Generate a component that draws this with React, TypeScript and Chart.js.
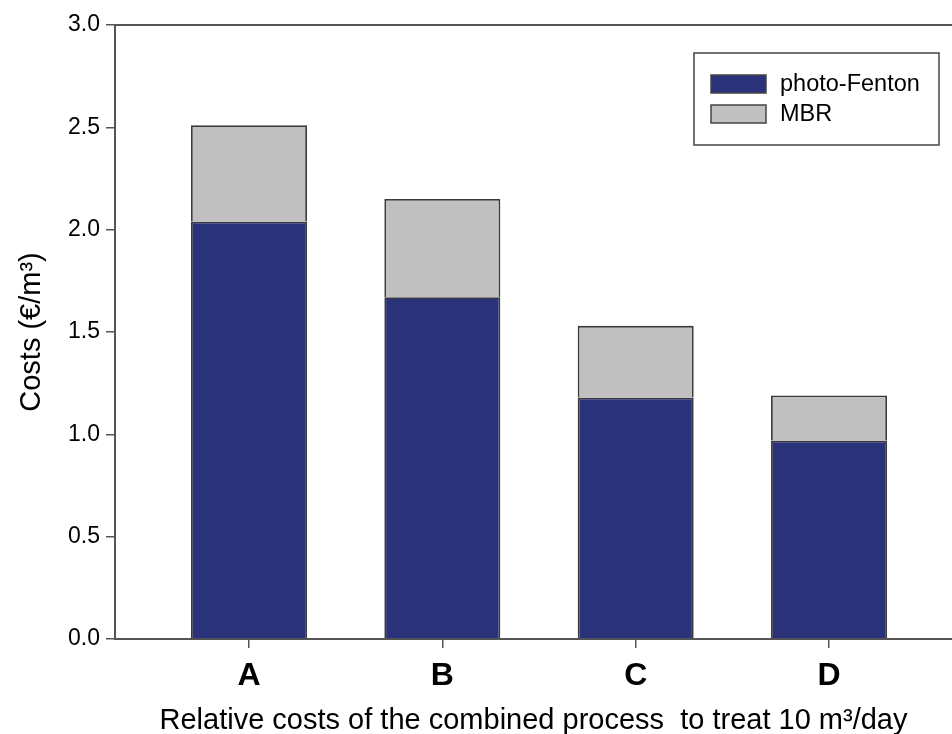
import { useEffect, useRef } from 'react';
import { Chart, registerables } from 'chart.js';

Chart.register(...registerables);

const categories = ['A', 'B', 'C', 'D'];
const photoFenton = [2.04, 1.67, 1.18, 0.97];
const mbr = [0.47, 0.48, 0.35, 0.22];
const seriesNames = ['photo-Fenton', 'MBR'];
const seriesColors = ['#2a327a', '#c0c0c0'];
const yMin = 0;
const yMax = 3.0;
const yStep = 0.5;
const xTitle = 'Relative costs of the combined process  to treat 10 m³/day';
const yTitle = 'Costs (€/m³)';

const FONT = "'Liberation Sans', Arial, Helvetica, sans-serif";
const AXIS = '#555555';

const topBorder = {
  id: 'topBorder',
  afterDraw(chart: any) {
    const { ctx, chartArea } = chart;
    ctx.save();
    ctx.strokeStyle = AXIS;
    ctx.lineWidth = 2;
    ctx.beginPath();
    ctx.moveTo(chartArea.left, chartArea.top);
    ctx.lineTo(chartArea.right, chartArea.top);
    ctx.stroke();
    ctx.restore();
  },
};

const boxLegend = {
  id: 'boxLegend',
  afterDraw(chart: any) {
    const { ctx } = chart;
    const bx = 694, by = 53, bw = 245, bh = 92;
    ctx.save();
    ctx.fillStyle = '#ffffff';
    ctx.fillRect(bx, by, bw, bh);
    ctx.strokeStyle = '#444444';
    ctx.lineWidth = 1.5;
    ctx.strokeRect(bx, by, bw, bh);
    chart.data.datasets.forEach((ds: any, i: number) => {
      const sy = 75 + i * 30;
      ctx.fillStyle = ds.backgroundColor;
      ctx.fillRect(711, sy, 55, 18);
      ctx.strokeStyle = '#444444';
      ctx.lineWidth = 1.5;
      ctx.strokeRect(711, sy, 55, 18);
      ctx.fillStyle = '#000000';
      ctx.font = `23.5px ${FONT}`;
      ctx.textBaseline = 'middle';
      ctx.textAlign = 'left';
      ctx.fillText(ds.label, 780, sy + 10);
    });
    ctx.restore();
  },
};

export default function App() {
  const ref = useRef<HTMLCanvasElement>(null);

  useEffect(() => {
    document.body.style.margin = '0';
    const canvas = ref.current;
    if (!canvas) return;
    const chart = new Chart(canvas, {
      type: 'bar',
      data: {
        datasets: [
          {
            label: seriesNames[0],
            data: categories.map((_, i) => ({ x: i + 1, y: photoFenton[i] })),
            backgroundColor: seriesColors[0],
            borderColor: '#3a3a3a',
            borderWidth: 1.8,
            stack: 's',
            barPercentage: 0.6,
            categoryPercentage: 1,
          },
          {
            label: seriesNames[1],
            data: categories.map((_, i) => ({ x: i + 1, y: mbr[i] })),
            backgroundColor: seriesColors[1],
            borderColor: '#3a3a3a',
            borderWidth: 1.8,
            stack: 's',
            barPercentage: 0.6,
            categoryPercentage: 1,
          },
        ],
      },
      options: {
        animation: false,
        responsive: false,
        devicePixelRatio: 1,
        layout: { padding: { top: 25, right: 0, left: 0, bottom: 0 } },
        plugins: {
          legend: { display: false },
          tooltip: { enabled: false },
        },
        scales: {
          x: {
            type: 'linear',
            offset: false,
            min: 0.307,
            max: 4.636,
            afterBuildTicks: (scale: any) => {
              scale.ticks = categories.map((_, i) => ({ value: i + 1 }));
            },
            afterFit: (scale: any) => {
              scale.height = 95;
            },
            ticks: {
              callback: (v: any) => categories[Number(v) - 1] ?? '',
              color: '#000000',
              font: { family: FONT, size: 32, weight: 'bold' },
              padding: 9,
              maxRotation: 0,
              autoSkip: false,
            },
            grid: {
              offset: false,
              drawOnChartArea: false,
              drawTicks: true,
              tickLength: 9,
              color: AXIS,
              lineWidth: 1.5,
            },
            border: { color: AXIS, width: 2 },
            title: {
              display: true,
              text: xTitle,
              color: '#000000',
              font: { family: FONT, size: 29, lineHeight: 0.9 },
              padding: { top: 0, bottom: 0 },
            },
          },
          y: {
            type: 'linear',
            stacked: true,
            min: yMin,
            max: yMax,
            afterFit: (scale: any) => {
              scale.width = 115;
            },
            ticks: {
              stepSize: yStep,
              callback: (v: any) => Number(v).toFixed(1),
              color: '#000000',
              font: { family: FONT, size: 23 },
              padding: 6,
            },
            grid: {
              drawOnChartArea: false,
              drawTicks: true,
              tickLength: 9,
              color: AXIS,
              lineWidth: 1.5,
            },
            border: { color: AXIS, width: 2 },
            title: {
              display: true,
              text: yTitle,
              color: '#000000',
              font: { family: FONT, size: 29, lineHeight: 1.2 },
              padding: { top: 15, bottom: 0 },
            },
          },
        },
      },
      plugins: [topBorder, boxLegend],
    } as any);
    return () => chart.destroy();
  }, []);

  return (
    <div style={{ width: 952, height: 734 }}>
      <canvas ref={ref} width={952} height={734} />
    </div>
  );
}
